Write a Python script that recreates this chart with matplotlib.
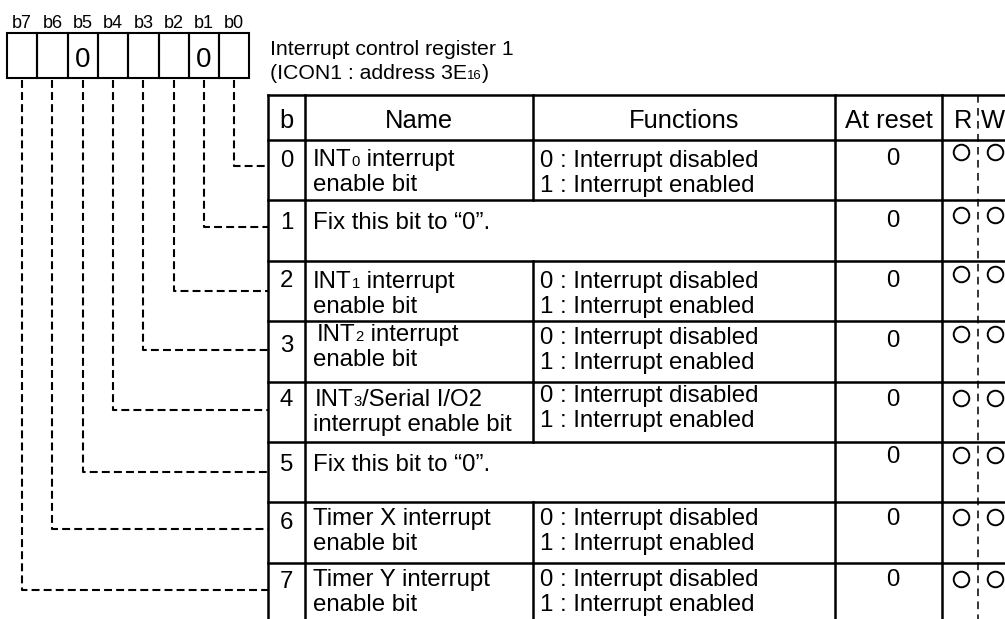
import re
import matplotlib
matplotlib.use('Agg')
import matplotlib.pyplot as plt
from matplotlib.patches import Rectangle

plt.rcParams['font.family'] = ['Liberation Sans', 'DejaVu Sans']

# register / table contents
bit_labels = ['b7', 'b6', 'b5', 'b4', 'b3', 'b2', 'b1', 'b0']
reg_values = ['', '', '0', '', '', '', '0', '']
title_lines = ['Interrupt control register 1', '(ICON1 : address 3E{16})']
headers = ['b', 'Name', 'Functions', 'At reset', 'R', 'W']
bit_nums = ['0', '1', '2', '3', '4', '5', '6', '7']
names_1 = ['INT{0} interrupt', 'Fix this bit to “0”.', 'INT{1} interrupt',
           'INT{2} interrupt', 'INT{3}/Serial I/O2', 'Fix this bit to “0”.',
           'Timer X interrupt', 'Timer Y interrupt']
names_2 = ['enable bit', '', 'enable bit', 'enable bit',
           'interrupt enable bit', '', 'enable bit', 'enable bit']
func_1 = ['0 : Interrupt disabled', '', '0 : Interrupt disabled',
          '0 : Interrupt disabled', '0 : Interrupt disabled', '',
          '0 : Interrupt disabled', '0 : Interrupt disabled']
func_2 = ['1 : Interrupt enabled', '', '1 : Interrupt enabled',
          '1 : Interrupt enabled', '1 : Interrupt enabled', '',
          '1 : Interrupt enabled', '1 : Interrupt enabled']
at_reset = ['0', '0', '0', '0', '0', '0', '0', '0']
can_read = [True] * 8
can_write = [True] * 8

# layout (pixels)
W, H = 1005, 619
reg_x0, reg_cw, reg_top, reg_bot = 7, 30.3, 33, 78
col_x = [268, 305, 533, 835, 942, 978, 1040]
tab_top, head_bot, row_h = 95, 140, 60.4
hook_y = [166, 227, 291, 350, 410, 472, 529, 590]   # by bit number
num_dy = [27, 29, 26, 31, 24, 29, 27, 25]
name_dy = [26, 29, 27, 20, 24, 29, 23, 23]
func_dy = [27, 0, 27, 23, 20, 0, 23, 23]
reset_dy = [25, 27, 26, 26, 24, 21, 23, 23]
circ_dy = [12, 15, 13, 13, 16, 13, 15, 16]
name_x = [313, 313, 313, 317, 315, 313, 313, 313]
line_gap = 25

fig = plt.figure(figsize=(W / 100, H / 100), dpi=100)
ax = fig.add_axes([0, 0, 1, 1])
ax.set_xlim(0, W)
ax.set_ylim(H, 0)
ax.axis('off')
renderer = fig.canvas.get_renderer()

BODY = 17.3


def rich_text(x, y, s, size, small=0.62):
    """draw text where {..} parts are small (subscript-like)"""
    for part in re.split(r'(\{[^}]*\})', s):
        if not part:
            continue
        if part.startswith('{'):
            t = ax.text(x, y, part[1:-1], fontsize=size * small, va='baseline', ha='left')
        else:
            t = ax.text(x, y, part, fontsize=size, va='baseline', ha='left')
        x += t.get_window_extent(renderer).width


# register boxes
centers = []
for i, lab in enumerate(bit_labels):
    x = reg_x0 + reg_cw * i
    ax.add_patch(Rectangle((x, reg_top), reg_cw, reg_bot - reg_top,
                           fill=False, lw=1.5, ec='black'))
    cx = x + reg_cw / 2
    centers.append(cx)
    ax.text(cx, 28, lab, fontsize=13, ha='center', va='baseline')
    if reg_values[i]:
        ax.text(cx, 67, reg_values[i], fontsize=20, ha='center', va='baseline')

# title
rich_text(270, 55, title_lines[0], 15.3)
rich_text(270, 79, title_lines[1], 15.3)

# dashed hooks from bits to rows
for i, cx in enumerate(centers):
    b = 7 - i
    hy = hook_y[b]
    ax.plot([cx, cx, col_x[0]], [reg_bot + 2, hy, hy], color='black', lw=1.5,
            ls=(0, (3.8, 2)), solid_capstyle='butt', dash_capstyle='butt')

# table grid
bottom = H + 10
ax.plot([col_x[0], W + 5], [tab_top, tab_top], color='black', lw=1.8)
ax.plot([col_x[0], W + 5], [head_bot, head_bot], color='black', lw=1.8)
for k in range(8):
    y = head_bot + row_h * (k + 1)
    ax.plot([col_x[0], W + 5], [y, y], color='black', lw=1.8)
for j in [0, 1, 3, 4]:
    ax.plot([col_x[j], col_x[j]], [tab_top, bottom], color='black', lw=1.8)
# name / functions separator (absent where the text spans both)
ax.plot([col_x[2], col_x[2]], [tab_top, head_bot], color='black', lw=1.8)
for k in range(8):
    if func_1[k]:
        y0 = head_bot + row_h * k
        ax.plot([col_x[2], col_x[2]], [y0, y0 + row_h], color='black', lw=1.8)
ax.plot([col_x[5], col_x[5]], [tab_top, bottom], color='black', lw=1.1,
        ls=(0, (5, 3.5)))

# header
hy = 128
ax.text((col_x[0] + col_x[1]) / 2, hy, headers[0], fontsize=18.4, ha='center', va='baseline')
ax.text((col_x[1] + col_x[2]) / 2, hy, headers[1], fontsize=18.4, ha='center', va='baseline')
ax.text((col_x[2] + col_x[3]) / 2, hy, headers[2], fontsize=18.4, ha='center', va='baseline')
ax.text((col_x[3] + col_x[4]) / 2, hy, headers[3], fontsize=18.4, ha='center', va='baseline')
ax.text(963, hy, headers[4], fontsize=18.4, ha='center', va='baseline')
ax.text(981, hy, headers[5], fontsize=18.4, ha='left', va='baseline')

# rows
for k in range(8):
    top = head_bot + row_h * k
    ax.text((col_x[0] + col_x[1]) / 2, top + num_dy[k], bit_nums[k],
            fontsize=BODY, ha='center', va='baseline')
    rich_text(name_x[k], top + name_dy[k], names_1[k], BODY)
    if names_2[k]:
        rich_text(313, top + name_dy[k] + line_gap, names_2[k], BODY)
    if func_1[k]:
        ax.text(540, top + func_dy[k], func_1[k], fontsize=BODY, va='baseline')
        ax.text(540, top + func_dy[k] + line_gap, func_2[k], fontsize=BODY, va='baseline')
    ax.text(893, top + reset_dy[k], at_reset[k], fontsize=BODY, ha='center', va='baseline')
    cy = top + circ_dy[k]
    if can_read[k]:
        ax.plot(961, cy, 'o', ms=11.2, mfc='none', mec='black', mew=1.4)
    if can_write[k]:
        ax.plot(995, cy, 'o', ms=11.2, mfc='none', mec='black', mew=1.4)

fig.savefig('out.png', dpi=100)
